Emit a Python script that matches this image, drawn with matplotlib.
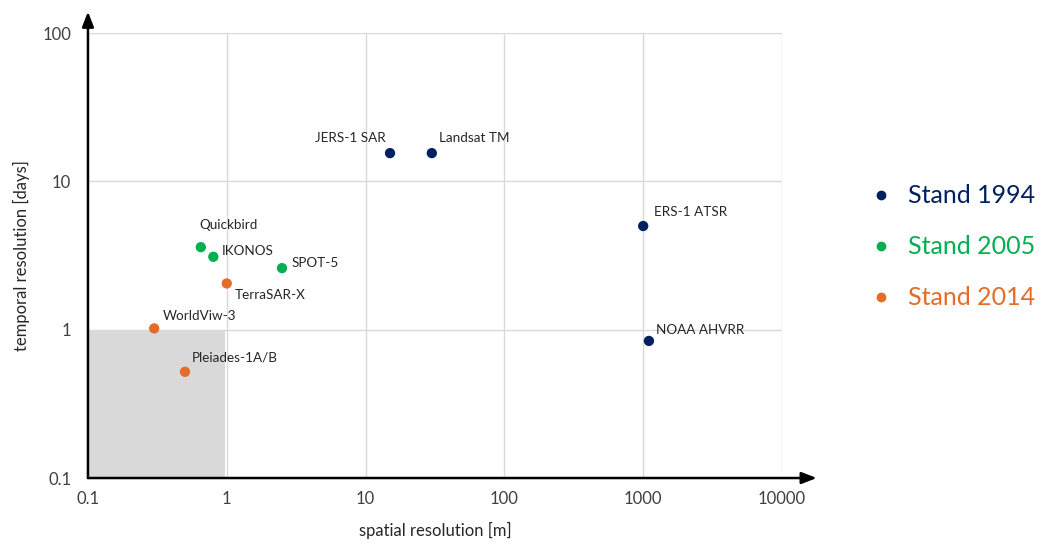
import matplotlib
matplotlib.use("Agg")
import matplotlib.pyplot as plt
from matplotlib.patches import Rectangle
from matplotlib.lines import Line2D

plt.rcParams.update({"font.family": ["Lato", "DejaVu Sans"]})

NAVY, GREEN, ORANGE = "#002060", "#00B050", "#E36C28"
TXT = "#262626"

# satellites per period: spatial resolution [m], revisit [days]
S1994_NAMES = ["JERS-1 SAR", "Landsat TM", "ERS-1 ATSR", "NOAA AHVRR"]
S1994_X = [15, 30, 1000, 1100]
S1994_Y = [15.5, 15.5, 5.0, 0.84]

S2005_NAMES = ["Quickbird", "IKONOS", "SPOT-5"]
S2005_X = [0.65, 0.8, 2.5]
S2005_Y = [3.6, 3.1, 2.6]

S2014_NAMES = ["TerraSAR-X", "WorldViw-3", "Pleiades-1A/B"]
S2014_X = [1.0, 0.3, 0.5]
S2014_Y = [2.05, 1.02, 0.52]

# label offsets in points (dx, dy, ha)
OFFS = {
    "JERS-1 SAR": (-3, 11, "right"), "Landsat TM": (5, 11, "left"),
    "ERS-1 ATSR": (8, 10, "left"), "NOAA AHVRR": (5, 8, "left"),
    "Quickbird": (-1, 16, "left"), "IKONOS": (6, 4, "left"),
    "SPOT-5": (7, 4, "left"), "TerraSAR-X": (6, -8, "left"),
    "WorldViw-3": (6, 9, "left"), "Pleiades-1A/B": (5, 10, "left"),
}

fig = plt.figure(figsize=(10.41, 5.45), dpi=100)
ax = fig.add_axes([0.0845, 0.1229, 0.6667, 0.8165])
ax.set_xscale("log")
ax.set_yscale("log")
ax.set_xlim(0.1, 10000)
ax.set_ylim(0.1, 100)

ax.add_patch(Rectangle((0.1, 0.1), 0.87, 0.9, facecolor="#D9D9D9",
                       edgecolor="none", zorder=0))

for v in [1, 10, 100, 1000, 10000]:
    ax.axvline(v, color="#D9D9D9", lw=1, zorder=0.5)
for v in [1, 10, 100]:
    ax.axhline(v, color="#D9D9D9", lw=1, zorder=0.5)

for names, xs, ys, c in [(S1994_NAMES, S1994_X, S1994_Y, NAVY),
                         (S2005_NAMES, S2005_X, S2005_Y, GREEN),
                         (S2014_NAMES, S2014_X, S2014_Y, ORANGE)]:
    ax.scatter(xs, ys, s=55, color=c, zorder=3, edgecolors="none")
    for n, x, y in zip(names, xs, ys):
        dx, dy, ha = OFFS[n]
        ax.annotate(n, (x, y), xytext=(dx, dy), textcoords="offset points",
                    ha=ha, va="center", fontsize=9.7, color=TXT)

for s in ["top", "right", "left", "bottom"]:
    ax.spines[s].set_visible(False)
ax.tick_params(length=0, labelsize=12, colors="#404040")
ax.tick_params(axis="x", pad=9)
ax.tick_params(axis="y", pad=12)
ax.set_xticks([0.1, 1, 10, 100, 1000, 10000])
ax.set_xticklabels(["0.1", "1", "10", "100", "1000", "10000"])
ax.set_yticks([0.1, 1, 10, 100])
ax.set_yticklabels(["0.1", "1", "10", "100"])
ax.minorticks_off()

arrow = dict(arrowstyle="-|>,head_length=0.9,head_width=0.35", color="black",
             lw=1.8, shrinkA=0, shrinkB=0)
ax.annotate("", xy=(0, 1.048), xytext=(0, 0), xycoords="axes fraction",
            arrowprops=arrow, annotation_clip=False)
ax.annotate("", xy=(1.05, 0), xytext=(0, 0), xycoords="axes fraction",
            arrowprops=arrow, annotation_clip=False)

ax.set_xlabel("spatial resolution [m]", fontsize=12, color=TXT, labelpad=11)
ax.set_ylabel("temporal resolution [days]", fontsize=12, color=TXT, labelpad=9)

handles = [Line2D([], [], ls="none", marker="o", markersize=6, color=c)
           for c in (NAVY, GREEN, ORANGE)]
leg = fig.legend(handles, ["Stand 1994", "Stand 2005", "Stand 2014"],
                 loc="center left", bbox_to_anchor=(0.814, 0.547), frameon=False,
                 fontsize=18, labelspacing=1.12, handletextpad=0.62,
                 handlelength=0.9)
for t, c in zip(leg.get_texts(), (NAVY, GREEN, ORANGE)):
    t.set_color(c)

fig.savefig("out.png", dpi=100)
